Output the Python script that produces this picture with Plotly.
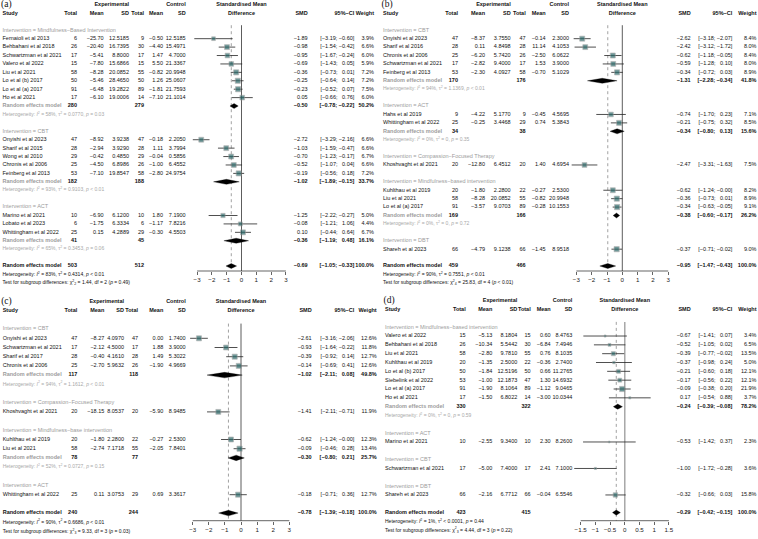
import math
import plotly.graph_objects as go

MINUS = "\u2212"

# ====================== Panel (a) ======================
A_GROUPS = ["Mindfulness\u2212Based Intervention", "CBT", "ACT"]
A_STUDY = ["Fernaioli et al 2013", "Behbahani et al 2018", "Schwartzman et al 2021", "Valero et al 2022",
           "Liu et al 2021", "Lo et al (b) 2017", "Lo et al (a) 2017", "Ho et al 2021",
           "Onyishi et al 2023", "Sharif et al 2015", "Wong et al 2010", "Chronis et al 2006",
           "Feinberg et al 2013", "Marino et al 2021", "Lobato et al 2023", "Whittingham et al 2022"]
A_GROUP = [0, 0, 0, 0, 0, 0, 0, 0, 1, 1, 1, 1, 1, 2, 2, 2]
A_E_N = [6, 26, 17, 15, 58, 50, 91, 17, 47, 28, 29, 25, 53, 10, 6, 25]
A_E_MEAN = [-25.70, -20.40, -5.41, -7.80, -8.28, -5.46, -6.48, -6.10, -8.92, -2.94, -0.42, -4.50, -7.10, -6.90, -1.75, 0.15]
A_E_SD = [12.5185, 16.7395, 8.8000, 15.6866, 20.0852, 28.4650, 19.2822, 19.0006, 3.9238, 3.9290, 0.4850, 6.8986,
          19.8547, 6.1200, 6.3334, 4.2889]
A_C_N = [9, 30, 17, 15, 55, 50, 89, 14, 47, 28, 29, 26, 58, 10, 6, 29]
A_C_MEAN = [-0.50, -4.40, 1.47, 5.50, -0.82, 1.26, -1.81, -7.10, -0.18, 1.11, -0.04, -1.00, -2.80, 1.80, -1.17, -0.30]
A_C_SD = [12.5185, 15.4971, 4.7000, 21.3367, 20.9948, 25.0607, 21.7593, 21.1014, 2.2050, 3.7994, 0.5856, 6.4552,
          24.9754, 7.1900, 7.8216, 4.5503]
A_SMD = [-1.89, -0.98, -0.95, -0.69, -0.36, -0.25, -0.23, 0.05, -2.72, -1.03, -0.70, -0.52, -0.19, -1.25, -0.08, 0.10]
A_LO = [-3.19, -1.54, -1.67, -1.43, -0.73, -0.64, -0.52, -0.66, -3.29, -1.59, -1.23, -1.07, -0.56, -2.22, -1.21, -0.44]
A_HI = [-0.60, -0.42, -0.24, 0.05, 0.01, 0.14, 0.07, 0.76, -2.16, -0.47, -0.17, 0.04, 0.18, -0.27, 1.06, 0.64]
A_W = [3.9, 6.6, 6.0, 5.9, 7.2, 7.2, 7.5, 6.0, 6.6, 6.6, 6.7, 6.6, 7.2, 5.0, 4.4, 6.7]
A_SUB_EN = [280, 182, 41]
A_SUB_CN = [279, 188, 45]
A_SUB_SMD = [-0.50, -1.02, -0.36]
A_SUB_LO = [-0.78, -1.89, -1.19]
A_SUB_HI = [-0.22, -0.15, 0.48]
A_SUB_W = [50.2, 33.7, 16.1]
A_SUB_I2 = ["58%", "93%", "65%"]
A_SUB_TAU2 = ["= 0.0770", "= 0.9103", "= 0.3453"]
A_SUB_P = ["= 0.03", "< 0.01", "= 0.06"]
A_ALL = [503, 512, -0.69, -1.05, -0.33, 100.0]
A_ALL_HET = ["83%", "= 0.4314", "< 0.01"]
A_TEST = ["1.44", "2", "= 0.49"]

# ====================== Panel (b) ======================
B_GROUPS = ["CBT", "ACT", "Compassion\u2212Focused Therapy", "Mindfulness\u2212based intervention", "DBT"]
B_STUDY = ["Onyishi et al 2023", "Sharif et al 2016", "Chronis et al 2006", "Schwartzman et al 2021",
           "Feinberg et al 2013", "Hahs et al 2019", "Whittingham et al 2022", "Khoshvaght et al 2021",
           "Kuhlthau et al 2019", "Liu et al 2021", "Lo et al (a) 2017", "Shareh et al 2023"]
B_GROUP = [0, 0, 0, 0, 0, 1, 1, 2, 3, 3, 3, 4]
B_E_N = [47, 28, 25, 17, 53, 9, 25, 20, 20, 58, 91, 66]
B_E_MEAN = [-8.37, 0.11, -6.20, -2.82, -2.30, -4.22, -0.25, -12.80, -1.80, -8.28, -3.57, -4.79]
B_E_SD = [3.7550, 4.8498, 5.7420, 9.4000, 4.0927, 5.1770, 3.4468, 6.4512, 2.2800, 20.0852, 9.0703, 9.1238]
B_C_N = [47, 28, 26, 17, 58, 9, 29, 20, 22, 55, 89, 66]
B_C_MEAN = [-0.14, 11.14, -2.50, 1.53, -0.70, -0.45, 0.74, 1.40, -0.27, -0.82, -0.28, -1.45]
B_C_SD = [2.3000, 4.1053, 6.0622, 3.9000, 5.1029, 4.5695, 5.3843, 4.6954, 2.5300, 20.9948, 10.1553, 8.9518]
B_SMD = [-2.62, -2.42, -0.62, -0.59, -0.34, -0.74, -0.21, -2.47, -0.62, -0.36, -0.34, -0.37]
B_LO = [-3.18, -3.12, -1.18, -1.28, -0.72, -1.70, -0.75, -3.31, -1.24, -0.73, -0.63, -0.71]
B_HI = [-2.07, -1.72, -0.05, 0.10, 0.03, 0.23, 0.32, -1.63, -0.00, 0.01, -0.05, -0.02]
B_W = [8.4, 8.0, 8.4, 8.0, 8.9, 7.1, 8.5, 7.5, 8.2, 8.9, 9.1, 9.0]
B_SUB_EN = [170, 34, None, 169, None]
B_SUB_CN = [176, 38, None, 166, None]
B_SUB_SMD = [-1.31, -0.34, None, -0.38, None]
B_SUB_LO = [-2.28, -0.80, None, -0.60, None]
B_SUB_HI = [-0.34, 0.13, None, -0.17, None]
B_SUB_W = [41.8, 15.6, None, 26.2, None]
B_SUB_I2 = ["94%", "0%", None, "0%", None]
B_SUB_TAU2 = ["= 1.1369", "= 0", None, "= 0", None]
B_SUB_P = ["< 0.01", "= 0.35", None, "= 0.72", None]
B_ALL = [459, 466, -0.95, -1.47, -0.43, 100.0]
B_ALL_HET = ["90%", "= 0.7551", "< 0.01"]
B_TEST = ["25.83", "4", "< 0.01"]

# ====================== Panel (c) ======================
C_GROUPS = ["CBT", "Compassion\u2212Focused Therapy", "Mindfulness\u2212base intervention", "ACT"]
C_STUDY = ["Onyishi et al 2023", "Schwartzman et al 2021", "Sharif et al 2017", "Chronis et al 2006",
           "Khoshvaght et al 2021", "Kuhlthau et al 2019", "Liu et al 2021", "Whittingham et al 2022"]
C_GROUP = [0, 0, 0, 0, 1, 2, 2, 3]
C_E_N = [47, 17, 28, 25, 20, 20, 58, 25]
C_E_MEAN = [-8.27, -2.12, -0.40, -2.70, -18.15, -1.80, -2.74, 0.11]
C_E_SD = [4.0970, 4.5000, 4.1610, 5.9632, 8.0537, 2.2800, 7.1718, 3.0753]
C_C_N = [47, 17, 28, 26, 20, 22, 55, 29]
C_C_MEAN = [0.00, 1.88, 1.49, -1.90, -5.90, -0.27, -2.05, 0.69]
C_C_SD = [1.7400, 3.9000, 5.3022, 4.9669, 8.9485, 2.5300, 7.8401, 3.3617]
C_SMD = [-2.61, -0.93, -0.39, -0.14, -1.41, -0.62, -0.09, -0.18]
C_LO = [-3.16, -1.64, -0.92, -0.69, -2.11, -1.24, -0.46, -0.71]
C_HI = [-2.06, -0.22, 0.14, 0.41, -0.71, -0.00, 0.28, 0.36]
C_W = [12.6, 11.8, 12.7, 12.6, 11.9, 12.3, 13.4, 12.7]
C_SUB_EN = [117, None, 78, None]
C_SUB_CN = [118, None, 77, None]
C_SUB_SMD = [-1.02, None, -0.30, None]
C_SUB_LO = [-2.11, None, -0.80, None]
C_SUB_HI = [0.08, None, 0.21, None]
C_SUB_W = [49.8, None, 25.7, None]
C_SUB_I2 = ["94%", None, "52%", None]
C_SUB_TAU2 = ["= 1.1612", None, "= 0.0727", None]
C_SUB_P = ["< 0.01", None, "= 0.15", None]
C_ALL = [240, 244, -0.78, -1.39, -0.18, 100.0]
C_ALL_HET = ["90%", "= 0.6686", "< 0.01"]
C_TEST = ["9.33", "3", "= 0.03"]

# ====================== Panel (d) ======================
D_GROUPS = ["Mindfulness\u2212based intervention", "ACT", "CBT", "DBT"]
D_STUDY = ["Valero et al 2022", "Behbahani et al 2018", "Liu et al 2021", "Kuhlthau et al 2019",
           "Lo et al (b) 2017", "Siebelink et al 2022", "Lo et al (a) 2017", "Ho et al 2021",
           "Marino et al 2021", "Schwartzman et al 2021", "Shareh et al 2023"]
D_GROUP = [0, 0, 0, 0, 0, 0, 0, 0, 1, 2, 3]
D_E_N = [15, 26, 58, 20, 50, 53, 91, 17, 10, 17, 66]
D_E_MEAN = [-5.13, -10.34, -2.80, -1.35, -1.84, -1.00, -1.90, -1.50, -2.55, -5.00, -2.16]
D_E_SD = [8.1804, 5.5442, 9.7810, 2.5000, 12.5196, 12.1873, 8.1064, 6.8022, 9.3400, 7.4000, 6.7712]
D_C_N = [15, 30, 55, 22, 50, 47, 89, 14, 10, 17, 66]
D_C_MEAN = [0.60, -6.84, 0.76, -0.36, 0.66, 1.30, -1.12, -3.00, 2.30, 2.41, -0.04]
D_C_SD = [8.4763, 7.4946, 8.1035, 2.7400, 11.2765, 14.6932, 9.0465, 10.0344, 8.2600, 7.1000, 6.5546]
D_SMD = [-0.67, -0.52, -0.39, -0.37, -0.21, -0.17, -0.09, 0.17, -0.53, -1.00, -0.32]
D_LO = [-1.41, -1.05, -0.77, -0.98, -0.60, -0.56, -0.38, -0.54, -1.42, -1.72, -0.66]
D_HI = [0.07, 0.02, -0.02, 0.24, 0.18, 0.22, 0.20, 0.88, 0.37, -0.28, 0.03]
D_W = [3.4, 6.5, 13.5, 5.0, 12.1, 12.1, 21.9, 3.7, 2.3, 3.6, 15.8]
D_SUB_EN = [330, None, None, None]
D_SUB_CN = [322, None, None, None]
D_SUB_SMD = [-0.24, None, None, None]
D_SUB_LO = [-0.39, None, None, None]
D_SUB_HI = [-0.08, None, None, None]
D_SUB_W = [78.2, None, None, None]
D_SUB_I2 = ["0%", None, None, None]
D_SUB_TAU2 = ["= 0", None, None, None]
D_SUB_P = ["= 0.59", None, None, None]
D_ALL = [423, 415, -0.29, -0.42, -0.15, 100.0]
D_ALL_HET = ["1%", "< 0.0001", "= 0.44"]
D_TEST = ["4.44", "3", "= 0.22"]

TICKS_3 = [-3, -2, -1, 0, 1, 2, 3]
TICKS_3_LABELS = ["\u22123", "\u22122", "\u22121", "0", "1", "2", "3"]
TICKS_15 = [-1.5, -1, -0.5, 0, 0.5, 1, 1.5]
TICKS_15_LABELS = ["\u22121.5", "\u22121", "\u22120.5", "0", "0.5", "1", "1.5"]

# ====================== layout / style ======================
W, H = 758, 539
SANS = "Liberation Sans, Arial, sans-serif"
SERIF = "Liberation Serif, Times New Roman, serif"
INK = "#111111"
GRAY = "#9c9c9c"
TEAL = "#2c6969"
FS = 5.5
FS_SMALL = 5.0

# column x positions (px, relative to panel left): study, eN, eMean, eSD, cN, cMean, cSD, SMD, CI-right, weight
GEO = {
    "a": dict(x0=0, cols=(2.5, 77, 103.7, 129, 144, 163, 185.7, 307.7, 354.3, 374),
              null=241.5, unit=14.8, R=3.7, top=0, bottom=289, row0=5, sp=8.42, axis=271,
              nullcol="#333333", nullw=0.8),
    "b": dict(x0=379, cols=(4, 79, 106, 131.7, 146.7, 166.7, 190, 311.7, 353.3, 377.5),
              null=243.3, unit=15.3, R=3.7, top=0, bottom=289, row0=5, sp=8.42, axis=271,
              nullcol="#333333", nullw=0.8),
    "c": dict(x0=0, cols=(2.7, 77.3, 104.3, 124, 138, 163.3, 185.7, 311.7, 354.3, 376.7),
              null=241, unit=16.1, R=3.5, top=290, bottom=539, row0=301.5, sp=9.2, axis=520.7,
              nullcol="#333333", nullw=0.8),
    "d": dict(x0=379, cols=(6, 86.7, 113.3, 138.3, 151.7, 171.7, 193.3, 311.7, 353.3, 377.5),
              null=245.8, unit=29.4, R=1.9, top=290, bottom=539, row0=300.7, sp=8.83, axis=520.7,
              nullcol="#9a9a9a", nullw=1.3),
}

fig = go.Figure()
layout = {}
shapes = []


def fnum(v, d):
    return f"{v:.{d}f}".replace("-", MINUS)


def fci(lo, hi):
    pad = "\u2007" if not f"{hi:.2f}".startswith("-") else ""
    return f"[{fnum(lo, 2)}; {pad}{fnum(hi, 2)}]"


def build(k, label, g, P):
    fx, tx, yy = 2 * k + 1, 2 * k + 2, k + 1
    fxn = "x" if fx == 1 else f"x{fx}"
    txn = f"x{tx}"
    yn = "y" if yy == 1 else f"y{yy}"
    cs, cen, cem, cesd, ccn, ccm, ccsd, csmd, cci, cw = g["cols"]

    def T(items, x, pos, size=FS, color=INK, family=SANS, xa=None):
        if not items:
            return
        fig.add_trace(go.Scatter(
            x=[x] * len(items), y=[r for r, _ in items], text=[t for _, t in items],
            mode="text", textposition=pos,
            textfont=dict(size=size, color=color, family=family),
            xaxis=xa or txn, yaxis=yn, cliponaxis=False, hoverinfo="skip", showlegend=False))

    # ---- rows
    n = len(P["study"])
    srow = [0] * n
    heads, sub_rows = [], {}
    r = 3
    for gi, gname in enumerate(P["groups"]):
        heads.append((r, f"Intervention = {gname}"))
        r += 1
        for i in range(n):
            if P["group"][i] == gi:
                srow[i] = r
                r += 1
        if P["sub_en"][gi] is not None:
            sub_rows[gi] = r
            r += 2
        r += 1
    orow = r

    B = lambda s: f"<b>{s}</b>"
    left_black = [(1, B("Study"))] + [(srow[i], P["study"][i]) for i in range(n)] + [(orow, B("Random effects model"))]
    left_gray = heads + [(rr, B("Random effects model")) for rr in sub_rows.values()]
    het_gray = []
    for gi, rr in sub_rows.items():
        het_gray.append((rr + 1, f"Heterogeneity: <i>I</i><sup>2</sup> = {P['sub_i2'][gi]}, "
                                 f"\u03c4<sup>2</sup> {P['sub_tau2'][gi]}, <i>p</i> {P['sub_p'][gi]}"))
    i2, tau2, pp = P["all_het"]
    chi, df, tp = P["test"]
    small_black = [(orow + 1, f"Heterogeneity: <i>I</i><sup>2</sup> = {i2}, \u03c4<sup>2</sup> {tau2}, <i>p</i> {pp}"),
                   (orow + 2, f"Test for subgroup differences: \u03c7<sup>2</sup><sub>{df}</sub> = {chi}, "
                              f"df = {df} (<i>p</i> {tp})")]
    T(left_black, cs, "middle right")
    T(left_gray, cs, "middle right", color=GRAY)
    T(het_gray, cs, "middle right", size=FS_SMALL, color="#a8a8a8")
    T(small_black, cs, "middle right", size=FS_SMALL)
    T([(0, label)], cs - 1.5, "middle right", size=9.5, family=SERIF)

    subs = list(sub_rows.items())
    al = P["all"]

    def col(x, header, vals, subvals, allval):
        items = [(1, B(header))]
        items += [(srow[i], vals[i]) for i in range(n)]
        items += [(rr, B(subvals[gi])) for gi, rr in subs]
        items.append((orow, B(allval)))
        T(items, x, "middle left")

    col(cen, "Total", [str(v) for v in P["e_n"]], [str(v) if v is not None else "" for v in P["sub_en"]], str(al[0]))
    T([(1, B("Mean"))] + [(srow[i], fnum(P["e_mean"][i], 2)) for i in range(n)], cem, "middle left")
    T([(0, B("Experimental")), (1, B("SD"))] + [(srow[i], fnum(P["e_sd"][i], 4)) for i in range(n)], cesd, "middle left")
    col(ccn, "Total", [str(v) for v in P["c_n"]], [str(v) if v is not None else "" for v in P["sub_cn"]], str(al[1]))
    T([(1, B("Mean"))] + [(srow[i], fnum(P["c_mean"][i], 2)) for i in range(n)], ccm, "middle left")
    T([(0, B("Control")), (1, B("SD"))] + [(srow[i], fnum(P["c_sd"][i], 4)) for i in range(n)], ccsd, "middle left")
    col(csmd, "SMD", [fnum(v, 2) for v in P["smd"]],
        [fnum(v, 2) if v is not None else "" for v in P["sub_smd"]], fnum(al[2], 2))
    col(cci, "95%\u2212CI", [fci(P["lo"][i], P["hi"][i]) for i in range(n)],
        [fci(P["sub_lo"][gi], P["sub_hi"][gi]) if P["sub_lo"][gi] is not None else "" for gi in range(len(P["groups"]))],
        fci(al[3], al[4]))
    col(cw, "Weight", [f"{v:.1f}%" for v in P["w"]],
        [f"{v:.1f}%" if v is not None else "" for v in P["sub_w"]], f"{al[5]:.1f}%")

    # forest header (centred on 0 of the forest axis)
    T([(0, B("Standardised Mean")), (1, B("Difference"))], 0, "middle center", xa=fxn)

    # ---- forest marks
    cx, cy = [], []
    for i in range(n):
        cx += [P["lo"][i], P["hi"][i], None]
        cy += [srow[i], srow[i], None]
    fig.add_trace(go.Scatter(x=cx, y=cy, mode="lines", line=dict(color="#222222", width=0.8),
                             xaxis=fxn, yaxis=yn, hoverinfo="skip", showlegend=False))
    wmax = max(P["w"])
    sizes = [max(1.6, 5.2 * math.sqrt(v / wmax)) for v in P["w"]]
    fig.add_trace(go.Scatter(x=P["smd"], y=srow, mode="markers",
                             marker=dict(symbol="square", size=sizes, color=TEAL,
                                         line=dict(color="#9a9a9a", width=0.7)),
                             xaxis=fxn, yaxis=yn, hoverinfo="skip", showlegend=False))
    dx, dy = [], []
    hh = 0.3
    diam = [(P["sub_lo"][gi], P["sub_smd"][gi], P["sub_hi"][gi], rr) for gi, rr in subs]
    diam.append((al[3], al[2], al[4], orow))
    for lo, est, hi, rr in diam:
        dx += [lo, est, hi, est, lo, None]
        dy += [rr, rr - hh, rr, rr + hh, rr, None]
    fig.add_trace(go.Scatter(x=dx, y=dy, mode="lines", fill="toself", fillcolor="#000000",
                             line=dict(color="#000000", width=0.3),
                             xaxis=fxn, yaxis=yn, hoverinfo="skip", showlegend=False))

    # ---- axes
    x0 = g["x0"]
    r_axis = (g["axis"] - g["row0"]) / g["sp"]
    r_top = (g["top"] - g["row0"]) / g["sp"]
    r_bot = (g["bottom"] - g["row0"]) / g["sp"]
    axis_pos = 1 - g["axis"] / H
    fkey = "xaxis" if fx == 1 else f"xaxis{fx}"
    layout[fkey] = dict(domain=[(x0 + g["null"] - g["R"] * g["unit"]) / W, (x0 + g["null"] + g["R"] * g["unit"]) / W],
                        range=[-g["R"], g["R"]], anchor="free", position=axis_pos, side="bottom",
                        showgrid=False, zeroline=False, showline=False,
                        ticks="outside", ticklen=3, tickwidth=0.7, tickcolor="#222222",
                        tickmode="array", tickvals=P["ticks"], ticktext=P["ticklabels"],
                        tickfont=dict(size=6.2, family=SANS, color="#222222"), fixedrange=True)
    layout[f"xaxis{tx}"] = dict(domain=[x0 / W, (x0 + 379) / W], range=[0, 379], anchor=yn,
                                visible=False, fixedrange=True)
    ykey = "yaxis" if yy == 1 else f"yaxis{yy}"
    layout[ykey] = dict(domain=[1 - g["bottom"] / H, 1 - g["top"] / H], range=[r_bot, r_top],
                        anchor=txn, visible=False, fixedrange=True)

    shapes.append(dict(type="line", xref=fxn, yref=yn, x0=0, x1=0, y0=2.4, y1=r_axis, layer="below",
                       line=dict(color=g["nullcol"], width=g["nullw"])))
    shapes.append(dict(type="line", xref=fxn, yref=yn, x0=al[2], x1=al[2], y0=2.4, y1=r_axis, layer="below",
                       line=dict(color="#8a8a8a", width=0.8, dash="dot")))
    shapes.append(dict(type="line", xref=fxn, yref="paper", x0=P["ticks"][0], x1=P["ticks"][-1],
                       y0=axis_pos, y1=axis_pos, line=dict(color="#222222", width=0.7)))


def pack(pfx, ticks, ticklabels):
    gl = globals()
    keys = ["GROUPS", "STUDY", "GROUP", "E_N", "E_MEAN", "E_SD", "C_N", "C_MEAN", "C_SD", "SMD", "LO", "HI", "W",
            "SUB_EN", "SUB_CN", "SUB_SMD", "SUB_LO", "SUB_HI", "SUB_W", "SUB_I2", "SUB_TAU2", "SUB_P",
            "ALL", "ALL_HET", "TEST"]
    P = {kk.lower(): gl[f"{pfx}_{kk}"] for kk in keys}
    P["ticks"], P["ticklabels"] = ticks, ticklabels
    return P


build(0, "(a)", GEO["a"], pack("A", TICKS_3, TICKS_3_LABELS))
build(1, "(b)", GEO["b"], pack("B", TICKS_3, TICKS_3_LABELS))
build(2, "(c)", GEO["c"], pack("C", TICKS_3, TICKS_3_LABELS))
build(3, "(d)", GEO["d"], pack("D", TICKS_15, TICKS_15_LABELS))

fig.update_layout(**layout)
fig.update_layout(shapes=shapes, width=W, height=H, autosize=False,
                  margin=dict(l=0, r=0, t=0, b=0), paper_bgcolor="white",
                  plot_bgcolor="rgba(0,0,0,0)", showlegend=False, hovermode=False,
                  font=dict(family=SANS, color=INK))

fig.write_html("out.html", config={"displayModeBar": False, "staticPlot": True},
               post_script="document.body.style.margin='0';document.body.style.padding='0';"
                           "document.body.style.overflow='hidden';")
